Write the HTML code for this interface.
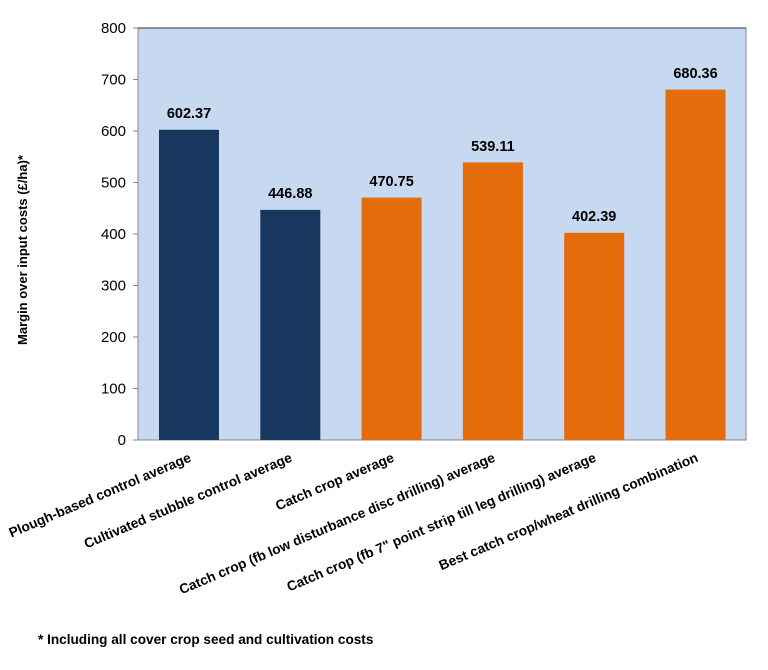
<!DOCTYPE html>
<html><head><style>body{margin:0;background:#fff}</style></head><body>
<svg width="768" height="665" xmlns="http://www.w3.org/2000/svg" font-family="Liberation Sans, sans-serif">
<rect x="138" y="28" width="608" height="412" fill="#c6d9f0" stroke="#888" stroke-width="1"/>
<line x1="138" y1="28" x2="746" y2="28" stroke="#333" stroke-width="1"/>
<g stroke="#888" stroke-width="1">
<line x1="133" y1="28" x2="138" y2="28"/><line x1="133" y1="79.5" x2="138" y2="79.5"/><line x1="133" y1="131" x2="138" y2="131"/><line x1="133" y1="182.5" x2="138" y2="182.5"/><line x1="133" y1="234" x2="138" y2="234"/><line x1="133" y1="285.5" x2="138" y2="285.5"/><line x1="133" y1="337" x2="138" y2="337"/><line x1="133" y1="388.5" x2="138" y2="388.5"/><line x1="133" y1="440" x2="138" y2="440"/>
</g>
<g font-size="15" text-anchor="end" fill="#000">
<text x="126" y="33">800</text><text x="126" y="84.5">700</text><text x="126" y="136">600</text><text x="126" y="187.5">500</text><text x="126" y="239">400</text><text x="126" y="290.5">300</text><text x="126" y="342">200</text><text x="126" y="393.5">100</text><text x="126" y="445">0</text>
</g>
<text transform="translate(27,250) rotate(-90)" text-anchor="middle" font-size="13" font-weight="bold">Margin over input costs (£/ha)*</text>
<g>
<rect x="159" y="129.8" width="60" height="310.2" fill="#17375e"/>
<rect x="260.3" y="209.9" width="60" height="230.1" fill="#17375e"/>
<rect x="361.6" y="197.6" width="60" height="242.4" fill="#e46c0a"/>
<rect x="462.9" y="162.4" width="60" height="277.6" fill="#e46c0a"/>
<rect x="564.2" y="232.8" width="60" height="207.2" fill="#e46c0a"/>
<rect x="665.5" y="89.6" width="60" height="350.4" fill="#e46c0a"/>
</g>
<g font-size="14.5" font-weight="bold" text-anchor="middle">
<text x="189" y="118">602.37</text><text x="290.3" y="198">446.88</text><text x="391.6" y="186">470.75</text><text x="492.9" y="151">539.11</text><text x="594.2" y="221">402.39</text><text x="695.5" y="78">680.36</text>
</g>
<g font-size="13.7" font-weight="bold" text-anchor="end">
<text transform="translate(192,461) rotate(-23)">Plough-based control average</text>
<text transform="translate(293,461) rotate(-23)">Cultivated stubble control average</text>
<text transform="translate(395,461) rotate(-23)">Catch crop average</text>
<text transform="translate(496,461) rotate(-23)">Catch crop (fb low disturbance disc drilling) average</text>
<text transform="translate(597,461) rotate(-23)">Catch crop (fb 7" point strip till leg drilling) average</text>
<text transform="translate(699,461) rotate(-23)">Best catch crop/wheat drilling combination</text>
</g>
<text x="38" y="644" font-size="13.6" font-weight="bold">* Including all cover crop seed and cultivation costs</text>
</svg>
</body></html>
